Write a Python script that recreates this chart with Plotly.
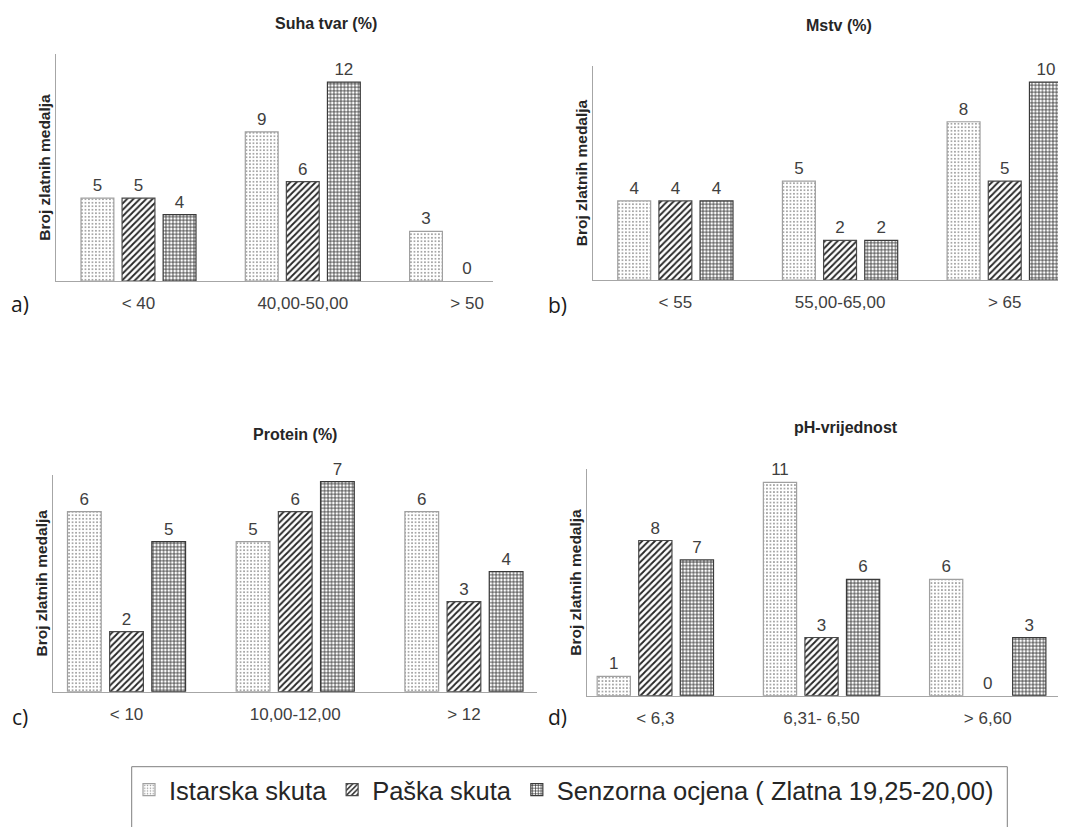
import plotly.graph_objects as go

# ---------------- data ----------------
series_names = ["Istarska skuta", "Paška skuta", "Senzorna ocjena ( Zlatna 19,25-20,00)"]

cat_a = ["< 40", "40,00-50,00", "> 50"]
ist_a = [5, 9, 3]
pas_a = [5, 6, 0]
sen_a = [4, 12, None]

cat_b = ["< 55", "55,00-65,00", "> 65"]
ist_b = [4, 5, 8]
pas_b = [4, 2, 5]
sen_b = [4, 2, 10]

cat_c = ["< 10", "10,00-12,00", "> 12"]
ist_c = [6, 5, 6]
pas_c = [2, 6, 3]
sen_c = [5, 7, 4]

cat_d = ["< 6,3", "6,31- 6,50", "> 6,60"]
ist_d = [1, 11, 6]
pas_d = [8, 3, 0]
sen_d = [7, 6, 3]

titles = ["Suha tvar (%)", "Mstv (%)", "Protein (%)", "pH-vrijednost"]
panel_labels = ["a)", "b)", "c)", "d)"]
y_title = "Broj zlatnih medalja"

# ---------------- layout geometry ----------------
# the page body adds an 8px margin, so the figure is drawn 8px smaller and offset
OFF = 8
W, H = 1066 - OFF, 827 - OFF


def fx(px):
    return (px - OFF) / W


def fy(py):
    return 1 - (py - OFF) / H


FONT = "Liberation Sans, Arial, sans-serif"
TXT = "#404040"

panels = [
    dict(cats=cat_a, vals=[ist_a, pas_a, sen_a], px=(55.7, 492.7), py=(281, 54),
         xr=(-0.504, 2.156), yr=(0, 13.7), title_xy=(326, 23), lab_xy=(20, 304)),
    dict(cats=cat_b, vals=[ist_b, pas_b, sen_b], px=(592.7, 1066), py=(280, 66),
         xr=(-0.502, 2.372), yr=(0, 10.82), title_xy=(839, 25), lab_xy=(557, 305)),
    dict(cats=cat_c, vals=[ist_c, pas_c, sen_c], px=(53.3, 537), py=(691.7, 475),
         xr=(-0.434, 2.433), yr=(0, 7.22), title_xy=(295, 434), lab_xy=(20, 717)),
    dict(cats=cat_d, vals=[ist_d, pas_d, sen_d], px=(586.7, 1066), py=(695.7, 469.3),
         xr=(-0.413, 2.471), yr=(0, 11.67), title_xy=(846, 428), lab_xy=(557, 717)),
]

line_colors = ["#a0a0a0", "#4a4a4a", "#3a3a3a"]
patterns = [
    dict(shape=".", fgcolor="#8a8a8a", bgcolor="white", size=3.5, solidity=0.2, fillmode="replace"),
    dict(shape="/", fgcolor="#262626", bgcolor="white", size=4.5, solidity=0.4, fillmode="replace"),
    dict(shape="+", fgcolor="#303030", bgcolor="white", size=3.5, solidity=0.4, fillmode="replace"),
]

fig = go.Figure()
annotations = []

for i, p in enumerate(panels):
    xa = "x" if i == 0 else f"x{i+1}"
    ya = "y" if i == 0 else f"y{i+1}"
    for s in range(3):
        vals = p["vals"][s]
        fig.add_trace(go.Bar(
            x=p["cats"], y=vals, name=series_names[s],
            xaxis=xa, yaxis=ya,
            marker=dict(color="white", pattern=patterns[s],
                        line=dict(color=line_colors[s],
                                  width=[1.2 if v else 0 for v in vals])),
            text=[("" if v is None else str(v)) for v in vals],
            textposition="outside",
            textfont=dict(family=FONT, size=17, color=TXT),
            cliponaxis=False,
            legendgroup=series_names[s],
            showlegend=(i == 0),
        ))
    xkey = "xaxis" if i == 0 else f"xaxis{i+1}"
    ykey = "yaxis" if i == 0 else f"yaxis{i+1}"
    fig.update_layout(**{
        xkey: dict(domain=[fx(p["px"][0]), min(1.0, fx(p["px"][1]))], range=list(p["xr"]),
                   anchor=ya, type="category", showline=True, linecolor="#a6a6a6", linewidth=1,
                   showgrid=False, zeroline=False, ticks="outside", ticklen=7,
                   tickcolor="rgba(0,0,0,0)", tickfont=dict(family=FONT, size=17, color=TXT),
                   fixedrange=True),
        ykey: dict(domain=[fy(p["py"][0]), fy(p["py"][1])], range=list(p["yr"]),
                   anchor=xa, showline=True, linecolor="#a6a6a6", linewidth=1,
                   showgrid=False, zeroline=False, showticklabels=False, ticks="",
                   title=dict(text=y_title, standoff=0,
                              font=dict(family=FONT, size=15.5, color="#262626", weight="bold")),
                   fixedrange=True),
    })
    annotations.append(dict(text=titles[i], x=fx(p["title_xy"][0]), y=fy(p["title_xy"][1]),
                            xref="paper", yref="paper", showarrow=False,
                            xanchor="center", yanchor="middle",
                            font=dict(family=FONT, size=16, color="#262626", weight="bold")))
    annotations.append(dict(text=panel_labels[i], x=fx(p["lab_xy"][0]), y=fy(p["lab_xy"][1]),
                            xref="paper", yref="paper", showarrow=False,
                            xanchor="center", yanchor="middle",
                            font=dict(family="Open Sans, sans-serif", size=21, color="#1a1a1a")))

fig.update_layout(
    width=W, height=H,
    margin=dict(l=0, r=0, t=0, b=0),
    paper_bgcolor="white", plot_bgcolor="white",
    barmode="group", bargap=0.25, bargroupgap=0.2,
    annotations=annotations,
    shapes=[dict(type="rect", xref="paper", yref="paper",
                 x0=fx(131.7), x1=fx(1007.3), y0=fy(850), y1=fy(766.7),
                 line=dict(color="#7f7f7f", width=1), fillcolor="rgba(0,0,0,0)")],
    legend=dict(orientation="h", x=fx(129), y=fy(790), xanchor="left", yanchor="middle",
                font=dict(family=FONT, size=25.5, color="#262626"),
                bgcolor="rgba(0,0,0,0)", borderwidth=0, itemwidth=30,
                traceorder="normal"),
    font=dict(family=FONT),
)

fig.write_html("out.html")
